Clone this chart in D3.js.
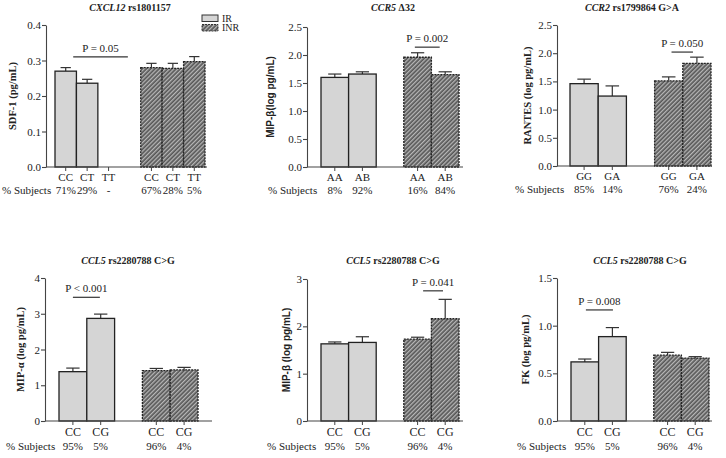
<!DOCTYPE html>
<html>
<head>
<meta charset="utf-8">
<script src="https://cdn.jsdelivr.net/npm/d3@7"></script>
<style>
  body { margin: 0; background: #fff; }
  text { font-family: "Liberation Serif", "Times New Roman", serif; fill: #222; }
</style>
</head>
<body>
<svg id="chart" width="726" height="458"></svg>
<script>
// ---- data (mean, upper error bar length) ----
const cxcl12Cats = ["CC", "CT", "TT"];
const cxcl12IR = [0.270, 0.236, null];
const cxcl12IRErr = [0.010, 0.011, null];
const cxcl12INR = [0.280, 0.278, 0.297];
const cxcl12INRErr = [0.012, 0.014, 0.014];
const cxcl12PctIR = ["71%", "29%", "-"];
const cxcl12PctINR = ["67%", "28%", "5%"];

const ccr5Cats = ["AA", "AB"];
const ccr5IR = [1.60, 1.66];
const ccr5IRErr = [0.06, 0.04];
const ccr5INR = [1.96, 1.65];
const ccr5INRErr = [0.08, 0.05];
const ccr5PctIR = ["8%", "92%"];
const ccr5PctINR = ["16%", "84%"];

const ccr2Cats = ["GG", "GA"];
const ccr2IR = [1.46, 1.24];
const ccr2IRErr = [0.08, 0.18];
const ccr2INR = [1.51, 1.82];
const ccr2INRErr = [0.07, 0.11];
const ccr2PctIR = ["85%", "14%"];
const ccr2PctINR = ["76%", "24%"];

const ccl5Cats = ["CC", "CG"];
const mipAlphaIR = [1.38, 2.87];
const mipAlphaIRErr = [0.10, 0.12];
const mipAlphaINR = [1.41, 1.43];
const mipAlphaINRErr = [0.06, 0.07];

const mipBetaIR = [1.63, 1.66];
const mipBetaIRErr = [0.04, 0.12];
const mipBetaINR = [1.73, 2.16];
const mipBetaINRErr = [0.04, 0.41];

const fkIR = [0.62, 0.885];
const fkIRErr = [0.03, 0.095];
const fkINR = [0.69, 0.66];
const fkINRErr = [0.03, 0.015];

const ccl5PctIR = ["95%", "5%"];
const ccl5PctINR = ["96%", "4%"];

const pLabels = ["P = 0.05", "P = 0.002", "P = 0.050", "P < 0.001", "P = 0.041", "P = 0.008"];
const pLevels = [0.31, 2.14, 2.02, 3.46, 2.75, 1.165];

// ---- panel layout ----
const panels = [
  { gene: "CXCL12", rest: " rs1801157", ylab: "SDF-1 (pg/mL)", sans: false,
    cats: cxcl12Cats, ir: cxcl12IR, irErr: cxcl12IRErr, inr: cxcl12INR, inrErr: cxcl12INRErr,
    pctIR: cxcl12PctIR, pctINR: cxcl12PctINR, p: 0, pSpan: [0.85, 3.4],
    ax: 46, axEnd: 207, bars: [55, 205], top: 25, bottom: 167, max: 0.4, step: 0.1, fmt: ".1f",
    titleX: 130, titleY: 11, ylabX: 16, pctX: 2 },
  { gene: "CCR5", rest: " Δ32", ylab: "MIP-β(log pg/mL)", sans: true,
    cats: ccr5Cats, ir: ccr5IR, irErr: ccr5IRErr, inr: ccr5INR, inrErr: ccr5INRErr,
    pctIR: ccr5PctIR, pctINR: ccr5PctINR, p: 1, pSpan: [3.4, 4.3],
    ax: 307, axEnd: 463, bars: [321, 459], top: 27, bottom: 167, max: 2.5, step: 0.5, fmt: ".1f",
    titleX: 393, titleY: 11, ylabX: 274, pctX: 268 },
  { gene: "CCR2", rest: " rs1799864 G>A", ylab: "RANTES (log pg/mL)", sans: false,
    cats: ccr2Cats, ir: ccr2IR, irErr: ccr2IRErr, inr: ccr2INR, inrErr: ccr2INRErr,
    pctIR: ccr2PctIR, pctINR: ccr2PctINR, p: 2, pSpan: [3.6, 4.36],
    ax: 557, axEnd: 712, bars: [570, 711], top: 25, bottom: 166, max: 2.5, step: 0.5, fmt: ".1f",
    titleX: 632, titleY: 11, ylabX: 531, pctX: 515 },
  { gene: "CCL5", rest: " rs2280788 C>G", ylab: "MIP-α (log pg/mL)", sans: false,
    cats: ccl5Cats, ir: mipAlphaIR, irErr: mipAlphaIRErr, inr: mipAlphaINR, inrErr: mipAlphaINRErr,
    pctIR: ccl5PctIR, pctINR: ccl5PctINR, p: 3, pSpan: [0.5, 1.47],
    ax: 45, axEnd: 212, bars: [59, 198], top: 278, bottom: 421, max: 4, step: 1, fmt: "d",
    titleX: 128, titleY: 264, ylabX: 24, pctX: 6 },
  { gene: "CCL5", rest: " rs2280788 C>G", ylab: "MIP-β (log pg/mL)", sans: true,
    cats: ccl5Cats, ir: mipBetaIR, irErr: mipBetaIRErr, inr: mipBetaINR, inrErr: mipBetaINRErr,
    pctIR: ccl5PctIR, pctINR: ccl5PctINR, p: 4, pSpan: [3.7, 4.42],
    ax: 307, axEnd: 463, bars: [321, 459], top: 279, bottom: 421, max: 3, step: 1, fmt: "d",
    titleX: 393, titleY: 264, ylabX: 290, pctX: 267 },
  { gene: "CCL5", rest: " rs2280788 C>G", ylab: "FK (log pg/mL)", sans: false,
    cats: ccl5Cats, ir: fkIR, irErr: fkIRErr, inr: fkINR, inrErr: fkINRErr,
    pctIR: ccl5PctIR, pctINR: ccl5PctINR, p: 5, pSpan: [0.54, 1.52],
    ax: 557, axEnd: 712, bars: [571, 709], top: 278, bottom: 421, max: 1.5, step: 0.5, fmt: ".1f",
    titleX: 640, titleY: 264, ylabX: 529, pctX: 517 }
];

const svg = d3.select("#chart");

// hatch pattern for INR bars
const defs = svg.append("defs");
const pat = defs.append("pattern")
  .attr("id", "hatch")
  .attr("patternUnits", "userSpaceOnUse")
  .attr("width", 3).attr("height", 3)
  .attr("patternTransform", "rotate(45)");
pat.append("rect").attr("width", 3).attr("height", 3).attr("fill", "#575757");
pat.append("rect").attr("x", 0).attr("width", 1.3).attr("height", 3).attr("fill", "#b8b8b8");

const irFill = "#d5d5d5";

function drawPanel(cfg) {
  const g = svg.append("g");

  const irKeys = cfg.cats.map(c => "IR-" + c);
  const inrKeys = cfg.cats.map(c => "INR-" + c);
  const slots = [...irKeys, "gap", ...inrKeys];

  const x = d3.scaleBand().domain(slots).range(cfg.bars).padding(0);
  const y = d3.scaleLinear().domain([0, cfg.max]).range([cfg.bottom, cfg.top]);

  const rows = [
    ...cfg.cats.map((c, i) => ({ key: irKeys[i], v: cfg.ir[i], e: cfg.irErr[i], grp: "IR" })),
    ...cfg.cats.map((c, i) => ({ key: inrKeys[i], v: cfg.inr[i], e: cfg.inrErr[i], grp: "INR" }))
  ].filter(d => d.v != null);

  const bw = x.bandwidth();

  // error bars (upper only)
  const eb = g.append("g").attr("stroke", "#333").attr("stroke-width", 1.2);
  eb.selectAll("line.v").data(rows).join("line")
    .attr("x1", d => x(d.key) + bw / 2).attr("x2", d => x(d.key) + bw / 2)
    .attr("y1", d => y(d.v)).attr("y2", d => y(d.v + d.e));
  eb.selectAll("line.c").data(rows).join("line")
    .attr("x1", d => x(d.key) + bw / 2 - bw * 0.24).attr("x2", d => x(d.key) + bw / 2 + bw * 0.24)
    .attr("y1", d => y(d.v + d.e)).attr("y2", d => y(d.v + d.e));

  // bars
  g.selectAll("rect.bar").data(rows).join("rect")
    .attr("x", d => x(d.key)).attr("width", bw)
    .attr("y", d => y(d.v)).attr("height", d => y(0) - y(d.v))
    .attr("fill", d => d.grp === "IR" ? irFill : "url(#hatch)")
    .attr("stroke", "#222")
    .attr("stroke-width", 1.3)
    .attr("stroke-dasharray", d => d.grp === "IR" ? null : "2,1");

  // y axis
  const ticks = d3.range(0, cfg.max + cfg.step / 2, cfg.step);
  const yAxis = g.append("g")
    .attr("transform", `translate(${cfg.ax},0)`)
    .call(d3.axisLeft(y).tickValues(ticks).tickFormat(d3.format(cfg.fmt)).tickSize(4).tickSizeOuter(0).tickPadding(1));
  yAxis.selectAll("path,line").attr("stroke", "#444").attr("stroke-width", 1.1);
  yAxis.selectAll("text").style("font-family", '"Liberation Serif", serif').style("font-size", "11px").attr("fill", "#333");

  // x axis
  const xAxis = g.append("g")
    .attr("transform", `translate(0,${cfg.bottom})`)
    .call(d3.axisBottom(x).tickValues([...irKeys, ...inrKeys]).tickFormat(d => d.split("-")[1])
      .tickSize(4).tickSizeOuter(0).tickPadding(2));
  xAxis.select(".domain").remove();
  xAxis.selectAll("line").attr("stroke", "#444").attr("stroke-width", 1);
  xAxis.selectAll("text").style("font-family", '"Liberation Serif", serif')
    .style("font-size", cfg.top > 200 ? "12px" : "11px").attr("fill", "#222");
  g.append("line")
    .attr("x1", cfg.ax).attr("x2", cfg.axEnd)
    .attr("y1", cfg.bottom).attr("y2", cfg.bottom)
    .attr("stroke", "#444").attr("stroke-width", 1.1);

  // % subjects row
  const pctY = cfg.bottom + (cfg.top > 200 ? 29 : 27);
  g.append("text").attr("x", cfg.pctX).attr("y", pctY)
    .style("font-size", "11px").text("% Subjects");
  const pctRows = [
    ...cfg.cats.map((c, i) => ({ key: irKeys[i], t: cfg.pctIR[i] })),
    ...cfg.cats.map((c, i) => ({ key: inrKeys[i], t: cfg.pctINR[i] }))
  ];
  g.selectAll("text.pct").data(pctRows).join("text")
    .attr("x", d => x(d.key) + bw / 2).attr("y", pctY)
    .attr("text-anchor", "middle").style("font-size", "11px").text(d => d.t);

  // p-value bracket
  const px1 = cfg.bars[0] + cfg.pSpan[0] * bw;
  const px2 = cfg.bars[0] + cfg.pSpan[1] * bw;
  const py = y(pLevels[cfg.p]);
  g.append("line").attr("x1", px1).attr("x2", px2).attr("y1", py).attr("y2", py)
    .attr("stroke", "#333").attr("stroke-width", 1.2);
  g.append("text").attr("x", (px1 + px2) / 2).attr("y", py - 5)
    .attr("text-anchor", "middle").style("font-size", "11px").text(pLabels[cfg.p]);

  // title
  const t = g.append("text").attr("x", cfg.titleX).attr("y", cfg.titleY)
    .attr("text-anchor", "middle").style("font-size", "10px").style("font-weight", "bold");
  t.append("tspan").style("font-style", "italic").text(cfg.gene);
  t.append("tspan").text(cfg.rest);

  // y label
  g.append("text")
    .attr("transform", `translate(${cfg.ylabX},${(cfg.top + cfg.bottom) / 2}) rotate(-90)`)
    .attr("text-anchor", "middle")
    .style("font-size", cfg.sans ? "10px" : "10.5px")
    .style("font-weight", "bold")
    .style("font-family", cfg.sans ? '"Liberation Sans", Arial, sans-serif' : '"Liberation Serif", serif')
    .text(cfg.ylab);
}

panels.forEach(drawPanel);

// legend
const legend = svg.append("g").attr("transform", "translate(202,15)");
const legendItems = [{ label: "IR", fill: irFill, dash: null }, { label: "INR", fill: "url(#hatch)", dash: "2,1" }];
legend.selectAll("rect").data(legendItems).join("rect")
  .attr("x", 0).attr("y", (d, i) => i * 9.5).attr("width", 16).attr("height", 6.5)
  .attr("fill", d => d.fill).attr("stroke", "#333").attr("stroke-width", 1).attr("stroke-dasharray", d => d.dash);
legend.selectAll("text").data(legendItems).join("text")
  .attr("x", 20).attr("y", (d, i) => i * 9.5 + 6.5)
  .style("font-size", "10px").text(d => d.label);
</script>
</body>
</html>
